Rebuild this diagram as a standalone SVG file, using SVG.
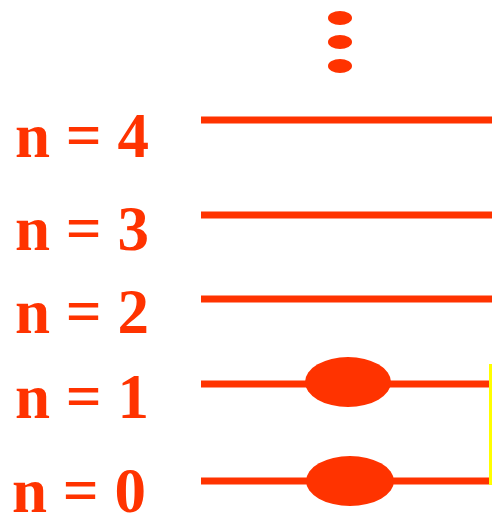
<svg xmlns="http://www.w3.org/2000/svg" width="492" height="519" viewBox="0 0 492 519">
<style>
.t{font-family:"Liberation Serif","Times New Roman",serif;font-weight:bold;font-size:63px;fill:#FF3300}
.l{stroke:#FF3300;stroke-width:7;fill:none}
.e{fill:#FF3300}
</style>
<rect width="492" height="519" fill="#fff"/>
<g id="dots"><ellipse class="e" cx="340" cy="18" rx="12" ry="7"/><ellipse class="e" cx="340" cy="42" rx="12" ry="7"/><ellipse class="e" cx="340" cy="66" rx="12" ry="7"/></g>
<g id="connectors">
<line class="l" x1="201" y1="120" x2="492" y2="120"/>
<line class="l" x1="201" y1="215" x2="492" y2="215"/>
<line class="l" x1="201" y1="299" x2="492" y2="299"/>
<line class="l" x1="201" y1="384" x2="489" y2="384"/>
<line class="l" x1="201" y1="481" x2="489" y2="481"/>
<line x1="490.5" y1="364" x2="490.5" y2="485" stroke="#FFFF00" stroke-width="3"/>
</g>
<g id="n4"><text class="t" x="15" y="157">n = 4</text></g>
<g id="n3"><text class="t" x="15" y="250">n = 3</text></g>
<g id="n2"><text class="t" x="15" y="333">n = 2</text></g>
<g id="n1"><text class="t" x="15" y="418">n = 1</text><ellipse class="e" cx="348" cy="382" rx="43" ry="25"/></g>
<g id="n0"><text class="t" x="12" y="512">n = 0</text><ellipse class="e" cx="350" cy="481" rx="44" ry="25"/></g>
</svg>
